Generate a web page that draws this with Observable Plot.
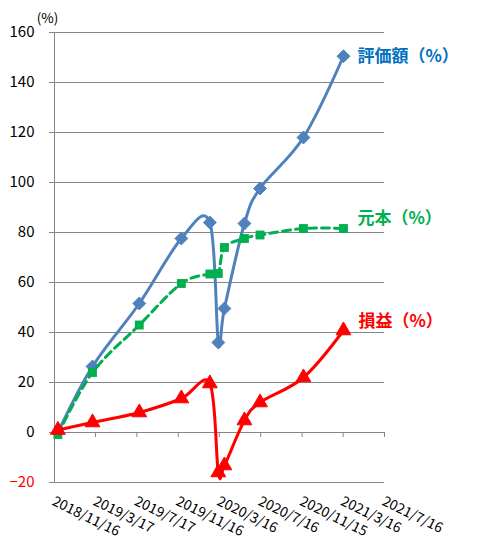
<!DOCTYPE html>
<html>
<head>
<meta charset="utf-8">
<script src="https://cdn.jsdelivr.net/npm/d3@7"></script>
<script src="https://cdn.jsdelivr.net/npm/@observablehq/plot@0.6"></script>
<style>
  html, body { margin: 0; padding: 0; background: #fff; }
  svg { overflow: visible; }
</style>
</head>
<body>
<div id="chart"></div>
<script>
// ---- data ----
const dates = ["2018-11-26", "2019-03-08", "2019-07-24", "2019-11-25", "2020-02-17", "2020-03-13", "2020-03-31", "2020-05-29", "2020-07-14", "2020-11-19", "2021-03-17"];
const valuation = [0, 26.4, 51.6, 77.6, 84, 36, 49.6, 83.6, 97.6, 118, 150.5];      // 評価額（%）
const principal = [-0.8, 24, 43, 59.6, 63.4, 63.6, 74, 77.6, 79, 81.6, 81.6];     // 元本（%）
const profit = [1, 4, 8, 13.6, 19.6, -16, -13.2, 4.8, 12, 22, 40.8];              // 損益（%）
const seriesNames = ["評価額（%）", "元本（%）", "損益（%）"];
const xTickDates = ["2018-11-16", "2019-03-17", "2019-07-17", "2019-11-16", "2020-03-16", "2020-07-16", "2020-11-15", "2021-03-16", "2021-07-16"];
const xTickLabels = ["2018/11/16", "2019/3/17", "2019/7/17", "2019/11/16", "2020/3/16", "2020/7/16", "2020/11/15", "2021/3/16", "2021/7/16"];
const yTicks = [-20, 0, 20, 40, 60, 80, 100, 120, 140, 160];

// ---- build ----
const parse = d3.utcParse("%Y-%m-%d");
const rows = dates.map((d, i) => ({date: parse(d), valuation: valuation[i], principal: principal[i], profit: profit[i]}));
const xTicks = xTickDates.map(parse);
const last = [rows[rows.length - 1]];
const grid = "#868686";
const font = "'Noto Sans CJK JP', 'Noto Sans', sans-serif";
const curve = "cardinal";

const chart = Plot.plot({
  width: 492,
  height: 547,
  marginLeft: 54,
  marginRight: 108,
  marginTop: 32,
  marginBottom: 65,
  style: {fontFamily: font, background: "#fff", overflow: "visible"},
  x: {type: "utc", domain: [xTicks[0], xTicks[xTicks.length - 1]], axis: null},
  y: {domain: [-20, 160], axis: null},
  marks: [
    Plot.gridY(yTicks, {stroke: grid, strokeOpacity: 1, strokeWidth: 1}),
    Plot.ruleX([xTicks[0]], {stroke: grid, strokeWidth: 1}),
    Plot.axisY(yTicks.filter(d => d >= 0), {tickSize: 5, tickPadding: 15, stroke: grid, fill: "#000", fontSize: 15, label: null}),
    Plot.axisY(yTicks.filter(d => d < 0), {tickSize: 5, tickPadding: 15, stroke: grid, fill: "#FF0000", fontSize: 15, label: null}),
    Plot.ruleX(xTicks, {x: d => d, y1: 0, y2: 0, insetBottom: -5, stroke: grid}),
    Plot.text(xTicks, {x: d => d, text: (d, i) => xTickLabels[i], frameAnchor: "bottom", dy: 13, dx: 1, rotate: 26, textAnchor: "start", lineAnchor: "top", fontSize: 14, fill: "#000"}),
    Plot.text(["(%)"], {frameAnchor: "top-left", dx: -7, dy: -19, textAnchor: "middle", fontSize: 13.5, fill: "#000"}),

    // 評価額
    Plot.line(rows, {x: "date", y: "valuation", curve, stroke: "#4F81BD", strokeWidth: 3}),
    Plot.dot(rows, {x: "date", y: "valuation", symbol: "diamond2", r: 5.8, fill: "#4F81BD", stroke: "#4F81BD", strokeWidth: 1}),
    // 元本
    Plot.line(rows, {x: "date", y: "principal", curve, stroke: "#00B050", strokeWidth: 3, strokeDasharray: "8,5"}),
    Plot.dot(rows, {x: "date", y: "principal", symbol: "square", r: 5, fill: "#00B050", stroke: "none"}),
    // 損益
    Plot.line(rows, {x: "date", y: "profit", curve, stroke: "#FF0000", strokeWidth: 3}),
    Plot.dot(rows, {x: "date", y: "profit", symbol: "triangle", r: 5.5, fill: "#FF0000", stroke: "#FF0000", strokeWidth: 1}),

    // series labels
    Plot.text(last, {x: "date", y: "valuation", text: () => seriesNames[0], dx: 14, dy: 0, textAnchor: "start", fontWeight: "bold", fontSize: 17, fill: "#0070C0"}),
    Plot.text(last, {x: "date", y: "principal", text: () => seriesNames[1], dx: 14, dy: -10, textAnchor: "start", fontWeight: "bold", fontSize: 17, fill: "#00B050"}),
    Plot.text(last, {x: "date", y: "profit", text: () => seriesNames[2], dx: 15, dy: -9, textAnchor: "start", fontWeight: "bold", fontSize: 17, fill: "#FF0000"})
  ]
});
document.getElementById("chart").appendChild(chart);
</script>
</body>
</html>
